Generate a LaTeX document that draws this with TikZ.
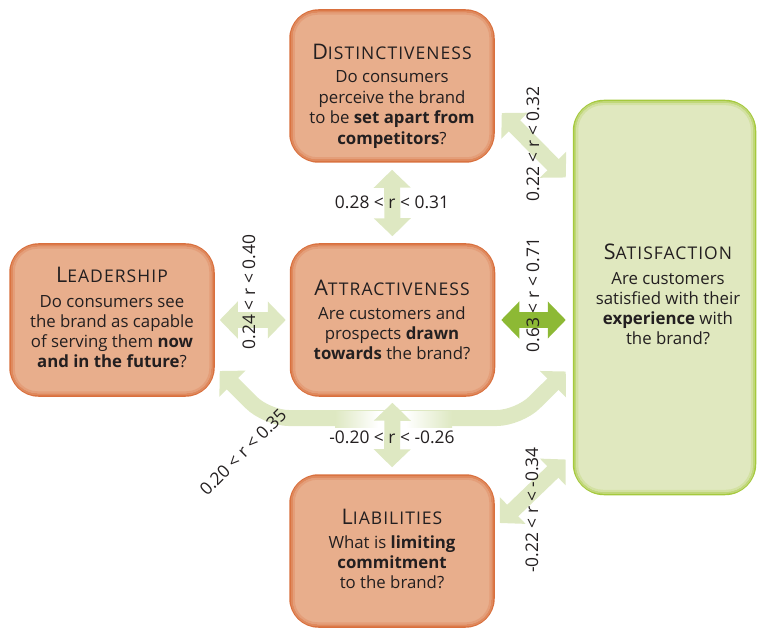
\documentclass[tikz,border=0pt]{standalone}
\usepackage{fontspec}
\setmainfont{Open Sans}
\newfontfamily\titlefont[LetterSpace=6]{Open Sans}
\usetikzlibrary{arrows.meta,calc}
\definecolor{boxfill}{HTML}{E8AE8C}
\definecolor{boxedge}{HTML}{D9703E}
\definecolor{satfill}{HTML}{E0E8BF}
\definecolor{satedge}{HTML}{A5C93D}
\definecolor{lgreen}{HTML}{DEE8C2}
\definecolor{dgreen}{HTML}{8DB935}
\definecolor{txt}{HTML}{231F20}
\newcommand{\titl}[2]{{\titlefont\fontsize{21.5}{21}\selectfont #1\fontsize{17.5}{20}\selectfont #2}}
\tikzset{
  obox/.style={draw=boxedge, fill=boxfill, line width=2.5pt, rounded corners=28pt,
    minimum width=203pt, minimum height=151pt, inner sep=0pt},
  sbox/.style={draw=satedge, fill=satfill, line width=2.5pt, rounded corners=30pt,
    minimum width=181pt, minimum height=393pt, inner sep=0pt},
  oglowa/.style={draw=boxedge!60!boxfill, line width=2pt, rounded corners=25.5pt},
  oglowb/.style={draw=boxedge!25!boxfill, line width=2pt, rounded corners=23.5pt},
  sglowa/.style={draw=satedge!55!satfill, line width=2pt, rounded corners=27.5pt},
  sglowb/.style={draw=satedge!22!satfill, line width=2pt, rounded corners=25.5pt},
  tl/.style={text=txt, inner sep=0pt, anchor=base},
  bl/.style={text=txt, inner sep=0pt, anchor=base, font=\fontsize{16.8}{20}\selectfont},
  lab/.style={text=txt, inner sep=0pt, font=\fontsize{17.4}{18}\selectfont},
  garrow/.style={line width=16pt, draw=lgreen,
    {Triangle[width=36pt,length=18pt]}-{Triangle[width=36pt,length=18pt]}},
  darrowstyle/.style={line width=16pt, draw=dgreen,
    {Triangle[width=36pt,length=18pt]}-{Triangle[width=36pt,length=18pt]}},
}
\begin{document}
\begin{tikzpicture}[x=1pt,y=-1pt]
\useasboundingbox (0,0) rectangle (757,628);
% boxes
\node[obox] (dist) at (392,86) {};
\node[obox] (attr) at (392.5,320) {};
\node[obox] (lead) at (112,320) {};
\node[obox] (liab) at (392,551) {};
\node[sbox] (sat) at (664.5,297.5) {};
\foreach \n in {dist,attr,lead,liab}{
  \draw[oglowa] ($(\n.south west)+(2.5,-2.5)$) rectangle ($(\n.north east)+(-2.5,2.5)$);
  \draw[oglowb] ($(\n.south west)+(4.5,-4.5)$) rectangle ($(\n.north east)+(-4.5,4.5)$);
}
\draw[sglowa] ($(sat.south west)+(2.5,-2.5)$) rectangle ($(sat.north east)+(-2.5,2.5)$);
\draw[sglowb] ($(sat.south west)+(4.5,-4.5)$) rectangle ($(sat.north east)+(-4.5,4.5)$);

% big curved arrow leadership -> satisfaction
\coordinate (cl) at ($(lead.east)+(5,51)$);
\coordinate (cr) at ($(sat.west)+(-7,74)$);
\draw[garrow, rounded corners=22pt] (cl) -- ++(47,47) -- ++(252,0) -- (cr);
\shade[left color=lgreen, right color=white] (335,411) rectangle (378,427);
\fill[white] (377.5,411) rectangle (406.5,427);
\shade[left color=white, right color=lgreen] (406,411) rectangle (452,427);

% straight arrows
\draw[garrow, shorten <=7pt, shorten >=7pt] (dist.south) -- (attr.north);
\draw[garrow, shorten <=6pt, shorten >=7pt] (attr.south) -- (liab.north);
\draw[garrow, shorten <=5pt, shorten >=4pt] (lead.east) -- (attr.west);
\draw[darrowstyle, shorten <=6pt, shorten >=7pt] (attr.east) -- (attr.east -| sat.west);
\draw[garrow] ($(dist.east)+(7,27)$) -- ($(sat.west)+(-7,-120)$);
\draw[garrow] ($(liab.east)+(5,-28)$) -- ($(sat.west)+(-7,162)$);

% labels
\node[lab] (l1) at (392,202) {0.28 < r < 0.31};
\node[lab] (l2) at (392,437) {-0.20 < r < -0.26};
\node[lab, rotate=90] (l3) at (249,292) {0.24 < r < 0.40};
\node[lab, rotate=90] (l4) at (533,295) {0.63 < r < 0.71};
\node[lab, rotate=90] (l5) at (533,144) {0.22 < r < 0.32};
\node[lab, rotate=90] (l6) at (532,510) {-0.22 < r < -0.34};
\node[lab, rotate=45] (l7) at (243,452) {0.20 < r < 0.35};

% box texts
\node[tl] (dist-t) at (392,60) {\titl{D}{ISTINCTIVENESS}};
\foreach \l [count=\i] in {{Do consumers},{perceive the brand},{to be \textbf{set apart from}},{\textbf{competitors}?}}
  \node[bl] (dist-\i) at ({392},{83+20.5*(\i-1)}) {\l};

\node[tl] (attr-t) at (392,295) {\titl{A}{TTRACTIVENESS}};
\foreach \l [count=\i] in {{Are customers and},{prospects \textbf{drawn}},{\textbf{towards} the brand?}}
  \node[bl] (attr-\i) at ({392},{319+20*(\i-1)}) {\l};

\node[tl] (lead-t) at (112,283) {\titl{L}{EADERSHIP}};
\foreach \l [count=\i] in {{Do consumers see},{the brand as capable},{of serving them \textbf{now}},{\textbf{and in the future}?}}
  \node[bl] (lead-\i) at ({112},{307+20*(\i-1)}) {\l};

\node[tl] (liab-t) at (392,524) {\titl{L}{IABILITIES}};
\foreach \l [count=\i] in {{What is \textbf{limiting}},{\textbf{commitment}},{to the brand?}}
  \node[bl] (liab-\i) at ({392},{548+20*(\i-1)}) {\l};

\node[tl] (sat-t) at (668,260) {\titl{S}{ATISFACTION}};
\foreach \l [count=\i] in {{Are customers},{satisfied with their},{\textbf{experience} with},{the brand?}}
  \node[bl] (sat-\i) at ({668},{284+20*(\i-1)}) {\l};
\end{tikzpicture}
\end{document}
